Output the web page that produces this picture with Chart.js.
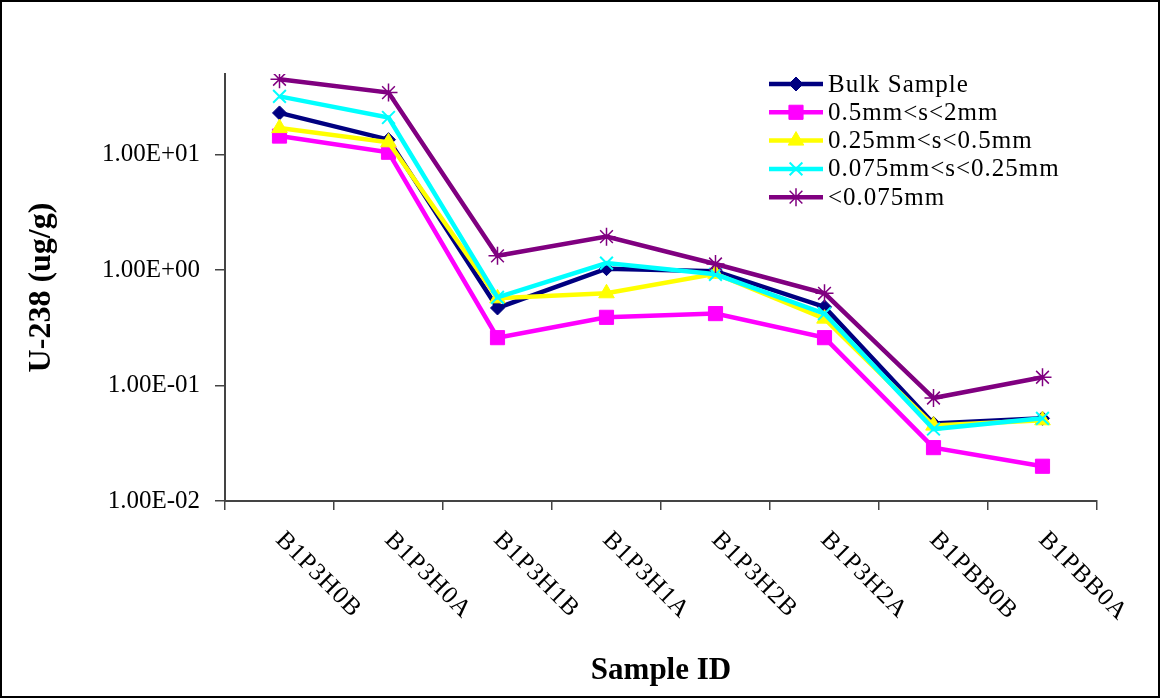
<!DOCTYPE html>
<html>
<head>
<meta charset="utf-8">
<script src="https://cdn.jsdelivr.net/npm/chart.js@4/dist/chart.umd.min.js"></script>
<style>
  html, body { margin: 0; padding: 0; background: #fff; }
  #wrap { width: 1160px; height: 698px; }
</style>
</head>
<body>
<div id="wrap"><canvas id="u238Chart" width="1160" height="698"></canvas></div>
<script>
// U-238 concentration per sample, by size fraction
const sampleIds = ['B1P3H0B', 'B1P3H0A', 'B1P3H1B', 'B1P3H1A', 'B1P3H2B', 'B1P3H2A', 'B1PBB0B', 'B1PBB0A'];
const seriesNames = ['Bulk Sample', '0.5mm<s<2mm', '0.25mm<s<0.5mm', '0.075mm<s<0.25mm', '<0.075mm'];

const bulkSample = [23, 13.5, 0.47, 1.03, 0.98, 0.48, 0.047, 0.052];
const fraction05to2 = [14.5, 10.5, 0.26, 0.39, 0.42, 0.26, 0.029, 0.020];
const fraction025to05 = [17, 12.8, 0.57, 0.63, 0.93, 0.38, 0.045, 0.050];
const fraction0075to025 = [32, 21, 0.58, 1.15, 0.92, 0.42, 0.042, 0.052];
const fractionBelow0075 = [45, 34.5, 1.33, 1.95, 1.13, 0.63, 0.078, 0.118];

const yTicks = [0.01, 0.1, 1, 10];

const seriesValues = [bulkSample, fraction05to2, fraction025to05, fraction0075to025, fractionBelow0075];
const colors = ['#000080', '#FF00FF', '#FFFF00', '#00FFFF', '#800080'];
const markers = [
    { style: 'rectRot', radius: 7, width: 1 },
    { style: 'rect', radius: 10, width: 1 },
    { style: 'triangle', radius: 9, width: 1 },
    { style: 'crossRot', radius: 9, width: 2 },
    { style: 'star', radius: 9, width: 1.5 }
];

const FONT = "'Liberation Serif', 'Times New Roman', serif";

function sciLabel(v) {
    const exp = Math.round(Math.log10(v));
    const sign = exp < 0 ? '-' : '+';
    const digits = String(Math.abs(exp)).padStart(2, '0');
    return (v / Math.pow(10, exp)).toFixed(2) + 'E' + sign + digits;
}

// rotated category labels, reading downwards to the right
const slantedLabels = {
    id: 'slantedLabels',
    afterDraw(chart) {
        const ctx = chart.ctx;
        const xs = chart.scales.x;
        ctx.save();
        ctx.font = '25px ' + FONT;
        ctx.letterSpacing = '1px';
        ctx.fillStyle = '#000';
        ctx.textAlign = 'left';
        ctx.textBaseline = 'middle';
        sampleIds.forEach((id, i) => {
            const x = xs.getPixelForValue(i);
            ctx.save();
            ctx.translate(x, xs.top + 35);
            ctx.rotate(Math.PI / 4);
            ctx.fillText(id, 0, 0);
            ctx.restore();
        });
        ctx.restore();
    }
};

// legend box in the upper right of the plot
const sideLegend = {
    id: 'sideLegend',
    afterDraw(chart) {
        const ctx = chart.ctx;
        const x0 = 769, x1 = 823, top = 84, step = 28.3;
        ctx.save();
        chart.data.datasets.forEach((ds, i) => {
            const y = top + i * step;
            ctx.strokeStyle = ds.borderColor;
            ctx.lineWidth = ds.borderWidth;
            ctx.beginPath();
            ctx.moveTo(x0, y);
            ctx.lineTo(x1, y);
            ctx.stroke();
            ctx.fillStyle = ds.pointBackgroundColor;
            ctx.strokeStyle = ds.pointBorderColor;
            ctx.lineWidth = ds.pointBorderWidth;
            Chart.helpers.drawPoint(ctx, {
                pointStyle: ds.pointStyle,
                radius: ds.pointRadius,
                rotation: 0,
                borderWidth: ds.pointBorderWidth
            }, (x0 + x1) / 2, y);
            ctx.fillStyle = '#000';
            ctx.font = '25px ' + FONT;
            ctx.letterSpacing = '1px';
            ctx.textAlign = 'left';
            ctx.textBaseline = 'middle';
            ctx.fillText(ds.label, x1 + 5, y + 1);
        });
        ctx.restore();
    }
};

// outer frame around the whole figure
const frame = {
    id: 'frame',
    beforeDraw(chart) {
        const ctx = chart.ctx;
        ctx.save();
        ctx.fillStyle = '#fff';
        ctx.fillRect(0, 0, chart.width, chart.height);
        ctx.restore();
    },
    afterDraw(chart) {
        const ctx = chart.ctx;
        ctx.save();
        ctx.strokeStyle = '#000';
        ctx.lineWidth = 2;
        ctx.strokeRect(1, 1, chart.width - 2, chart.height - 2);
        ctx.restore();
    }
};

const datasets = seriesNames.map((name, i) => ({
    label: name,
    data: seriesValues[i],
    borderColor: colors[i],
    backgroundColor: colors[i],
    borderWidth: 4.5,
    pointStyle: markers[i].style,
    pointRadius: markers[i].radius,
    pointHoverRadius: markers[i].radius,
    pointBackgroundColor: colors[i],
    pointBorderColor: colors[i],
    pointBorderWidth: markers[i].width,
    tension: 0,
    order: seriesNames.length - i
}));

const ctx = document.getElementById('u238Chart').getContext('2d');
new Chart(ctx, {
    type: 'line',
    data: { labels: sampleIds, datasets: datasets },
    options: {
        responsive: false,
        animation: false,
        layout: { padding: { top: 74, right: 63, left: 0, bottom: 0 } },
        plugins: {
            legend: { display: false },
            tooltip: { enabled: false }
        },
        scales: {
            x: {
                type: 'category',
                offset: true,
                grid: {
                    offset: true,
                    drawOnChartArea: false,
                    drawTicks: true,
                    tickLength: 9,
                    color: '#444',
                    lineWidth: 1.5
                },
                border: { color: '#444', width: 2 },
                ticks: { display: false },
                title: {
                    display: true,
                    text: 'Sample ID',
                    color: '#000',
                    font: { family: FONT, size: 31, weight: 'bold' },
                    padding: { top: 0, bottom: 8 }
                },
                afterFit: (scale) => { scale.height = 197; }
            },
            y: {
                type: 'logarithmic',
                min: 0.01,
                max: 50,
                afterBuildTicks: (scale) => {
                    scale.ticks = yTicks.map(v => ({ value: v }));
                },
                grid: {
                    drawOnChartArea: false,
                    drawTicks: true,
                    tickLength: 10,
                    color: '#444',
                    lineWidth: 1.5
                },
                border: { color: '#444', width: 2 },
                ticks: {
                    color: '#000',
                    padding: 15,
                    font: { family: FONT, size: 25 },
                    callback: (v) => sciLabel(v)
                },
                title: {
                    display: true,
                    text: 'U-238 (ug/g)',
                    color: '#000',
                    font: { family: FONT, size: 32, weight: 'bold' },
                    padding: { top: 23, bottom: 0 }
                },
                afterFit: (scale) => { scale.width = 225; }
            }
        }
    },
    plugins: [frame, slantedLabels, sideLegend]
});
</script>
</body>
</html>
